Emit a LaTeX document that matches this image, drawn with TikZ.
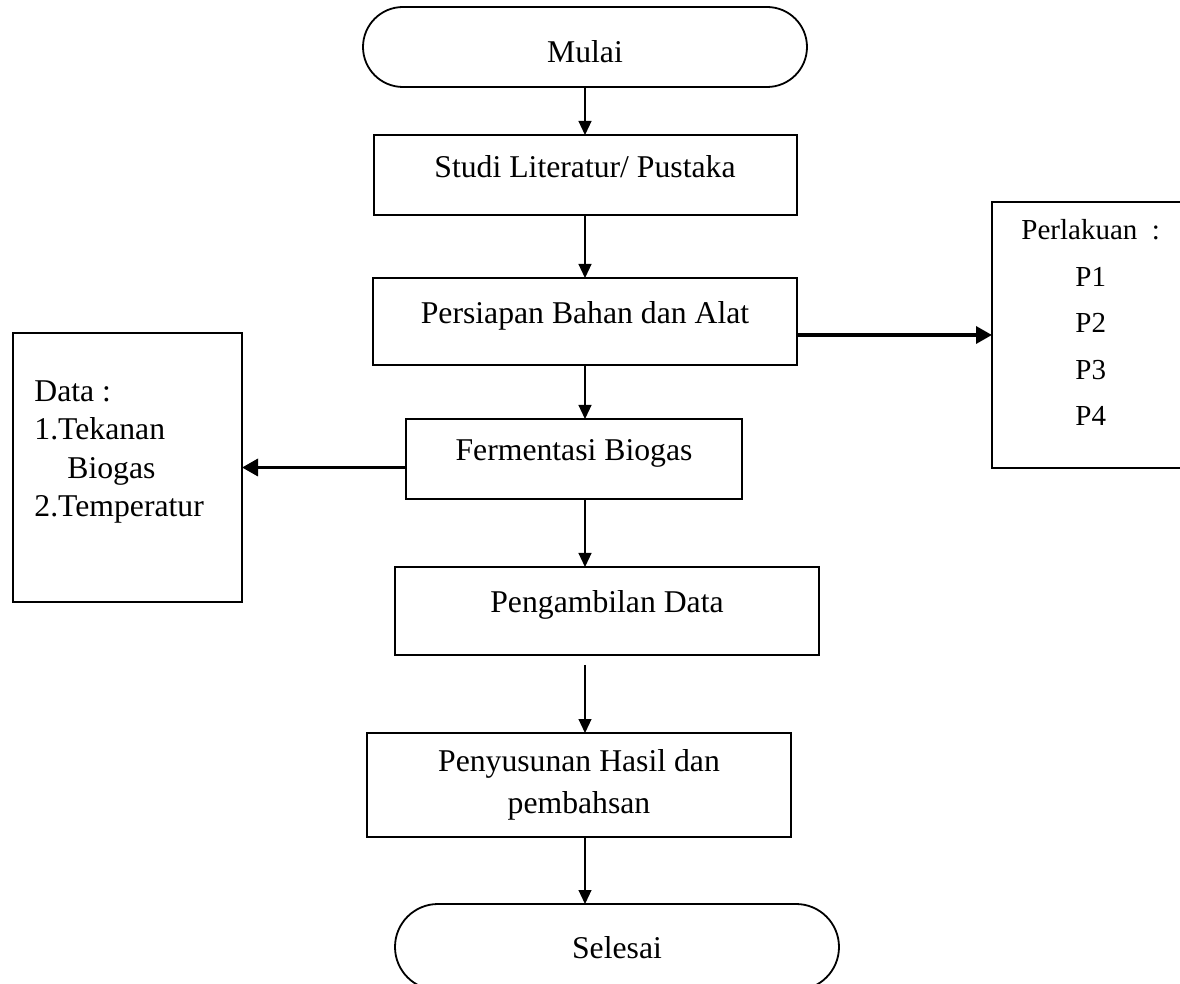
\documentclass[tikz,border=0pt]{standalone}
\usepackage{fontspec}
\setmainfont{Liberation Serif}
\usetikzlibrary{positioning,shapes.misc,arrows.meta}

\begin{document}
\begin{tikzpicture}
  [x=0.5pt,y=-0.5pt,
   terminal/.style={rounded rectangle,draw,line width=0.9pt,inner sep=0pt,outer sep=0pt,
minimum width=222pt,font=\fontsize{15.85pt}{19pt}\selectfont},
   proses/.style={rectangle,draw,line width=1pt,inner sep=0pt,outer sep=0pt,
font=\fontsize{15.85pt}{21pt}\selectfont},
   keterangan/.style={rectangle,draw,line width=1pt,inner sep=0pt,outer sep=0pt},
   isi/.style={anchor=north west,align=left,inner sep=0pt},
   alur/.style={line width=0.6pt,-{Triangle[length=7pt,width=6.5pt]}},
   alurtebal/.style={line width=1.7pt,-{Triangle[length=8pt,width=8.5pt]}}]
  \path[use as bounding box,clip] (0,0) rectangle (1180,984);

  \node[terminal,minimum height=40pt,text height=15.5pt,text depth=0pt] (mulai) at (585,47) {Mulai};
  \node[proses,minimum width=211.5pt,text height=21.25pt,text depth=18.75pt] (studi) [below=24pt of mulai] {Studi Literatur/ Pustaka};
  \node[proses,minimum width=212pt,text height=22.75pt,text depth=20.75pt] (persiapan) [below=31.5pt of studi] {Persiapan Bahan dan Alat};
  \node[proses,minimum width=168pt,text height=20.75pt,text depth=19.25pt] (fermentasi) [below=27pt of persiapan,xshift=-5.5pt] {Fermentasi Biogas};
  \node[proses,minimum width=212pt,text height=22.75pt,text depth=21.25pt] (pengambilan) [below=34pt of fermentasi,xshift=16.5pt] {Pengambilan Data};
  \node[proses,minimum width=212pt,minimum height=52pt,align=center] (penyusunan) [below=39pt of pengambilan,xshift=-14pt] {Penyusunan Hasil dan\\pembahsan};
  \node[terminal,minimum height=43pt,text height=11.5pt,text depth=0pt] (selesai) [below=33.5pt of penyusunan,xshift=19pt] {Selesai};

  \node[keterangan,minimum width=130pt,minimum height=133pt] (perlakuan) [right=97.5pt of persiapan,yshift=-6.75pt] {};
  \node[isi,font=\fontsize{14.5pt}{23.25pt}\selectfont] (perlakuanisi) at ([xshift=14.5pt,yshift=-8.5pt]perlakuan.north west)
  {Perlakuan\ \ :\\\hspace*{27pt}P1\\\hspace*{27pt}P2\\\hspace*{27pt}P3\\\hspace*{27pt}P4};
  \node[keterangan,minimum width=114.5pt,minimum height=134.5pt] (data) [left=82pt of fermentasi,yshift=-4.25pt] {};
  \node[isi,font=\fontsize{15.85pt}{19.25pt}\selectfont] (dataisi) at ([xshift=10.5pt,yshift=-23.5pt]data.north west)
  {Data :\\1.Tekanan\\\hspace*{16.5pt}Biogas\\2.Temperatur};

  \draw[alur] (mulai.south) -- (studi.north);
  \draw[alur] (studi.south) -- (persiapan.north);
  \draw[alur] (persiapan.south) -- (persiapan.south |- fermentasi.north);
  \draw[alur] (persiapan.south |- fermentasi.south) -- (persiapan.south |- pengambilan.north);
  \draw[alur] ([yshift=-5pt]persiapan.south |- pengambilan.south) -- (persiapan.south |- penyusunan.north);
  \draw[alur] (persiapan.south |- penyusunan.south) -- (persiapan.south |- selesai.north);
  \draw[alurtebal] (persiapan.east |- perlakuan.west) -- (perlakuan.west);
  \draw[alurtebal] (fermentasi.west |- data.east) -- (data.east);

\end{tikzpicture}
\end{document}
